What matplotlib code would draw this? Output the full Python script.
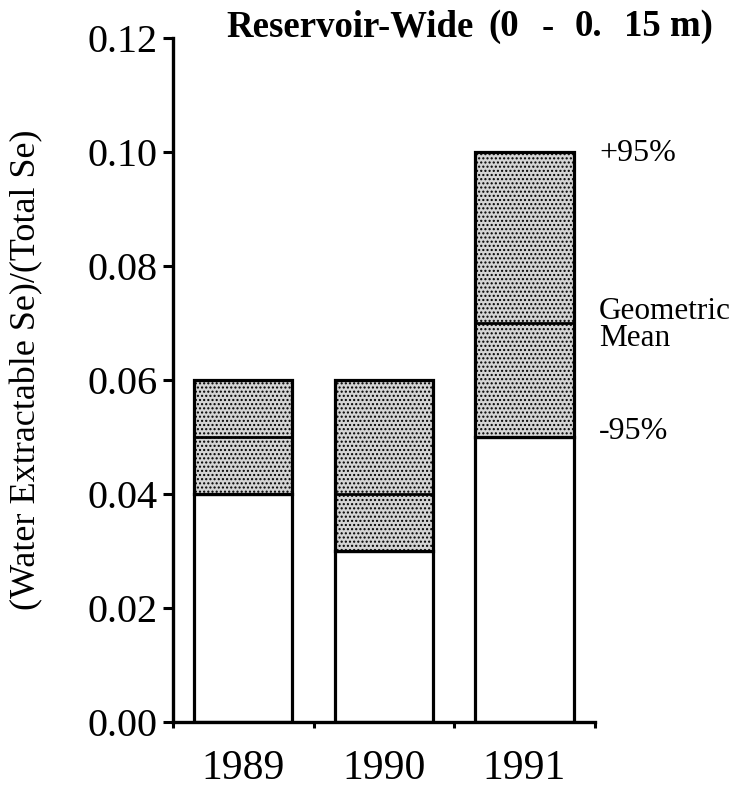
import matplotlib.pyplot as plt
import numpy as np

# Data
years = ["1989", "1990", "1991"]
lower_95 = [0.04, 0.03, 0.05]
geo_mean = [0.05, 0.04, 0.07]
upper_95 = [0.06, 0.06, 0.10]
y_ticks = [0.00, 0.02, 0.04, 0.06, 0.08, 0.10, 0.12]

plt.rcParams["font.family"] = ["Liberation Serif", "DejaVu Serif"]
plt.rcParams["hatch.color"] = "#5a5a5a"
plt.rcParams["hatch.linewidth"] = 1.0

fig = plt.figure(figsize=(7.36, 7.87), dpi=100)
ax = fig.add_axes([0.235, 0.0826, 0.573, 0.869])

x = np.arange(len(years))
width = 0.7
lower = np.array(lower_95)
upper = np.array(upper_95)

# white part from zero to the lower limit
ax.bar(x, lower, width, color="white", edgecolor="black", linewidth=2.3, zorder=2)
# stippled confidence band
ax.bar(x, upper - lower, width, bottom=lower, color="#d4d4d4", edgecolor="black",
       linewidth=2.3, hatch="....", zorder=2)
# geometric mean line
for xi, m in zip(x, geo_mean):
    ax.plot([xi - width / 2, xi + width / 2], [m, m], color="black", lw=2.0, zorder=3)

ax.set_xlim(-0.5, 2.5)
ax.set_ylim(0, 0.12)
ax.set_yticks(y_ticks)
ax.set_yticklabels([f"{v:.2f}" for v in y_ticks], fontsize=29)
ax.set_xticks(x)
ax.set_xticklabels(years, fontsize=30)
ax.set_xticks([-0.5, 0.5, 1.5, 2.5], minor=True)
ax.tick_params(axis="x", which="major", length=0, pad=20)
ax.tick_params(axis="x", which="minor", length=4, width=2.2, direction="out")
ax.tick_params(axis="y", length=7, width=2.2, direction="out", pad=4)

for side in ["top", "right"]:
    ax.spines[side].set_visible(False)
for side in ["left", "bottom"]:
    ax.spines[side].set_linewidth(2.4)

fig.text(27 / 736, 1 - 370 / 787, "(Water Extractable Se)/(Total Se)", fontsize=26,
         rotation=90, ha="center", va="center")

# title, spaced out like the original typesetting
title_parts = [("Reservoir-Wide", 226), ("(0", 488), ("-", 542), ("0.", 575),
               ("15", 624), ("m)", 670)]
for part, px in title_parts:
    fig.text(px / 736, 1 - 27 / 787, part, fontsize=26.5, fontweight="bold",
             ha="left", va="center")

# annotations to the right of the last bar
ax.annotate("+95%", xy=(2.5, upper_95[-1]), xytext=(2.53, upper_95[-1] - 0.0003),
            fontsize=23, va="center", annotation_clip=False)
ax.annotate("Geometric\nMean", xy=(2.5, geo_mean[-1]), xytext=(2.53, geo_mean[-1] - 0.0003),
            fontsize=22.5, va="center", linespacing=0.9, annotation_clip=False)
ax.annotate("-95%", xy=(2.5, lower_95[-1]), xytext=(2.53, lower_95[-1] + 0.001),
            fontsize=23, va="center", annotation_clip=False)

fig.savefig("out.png", dpi=100)
